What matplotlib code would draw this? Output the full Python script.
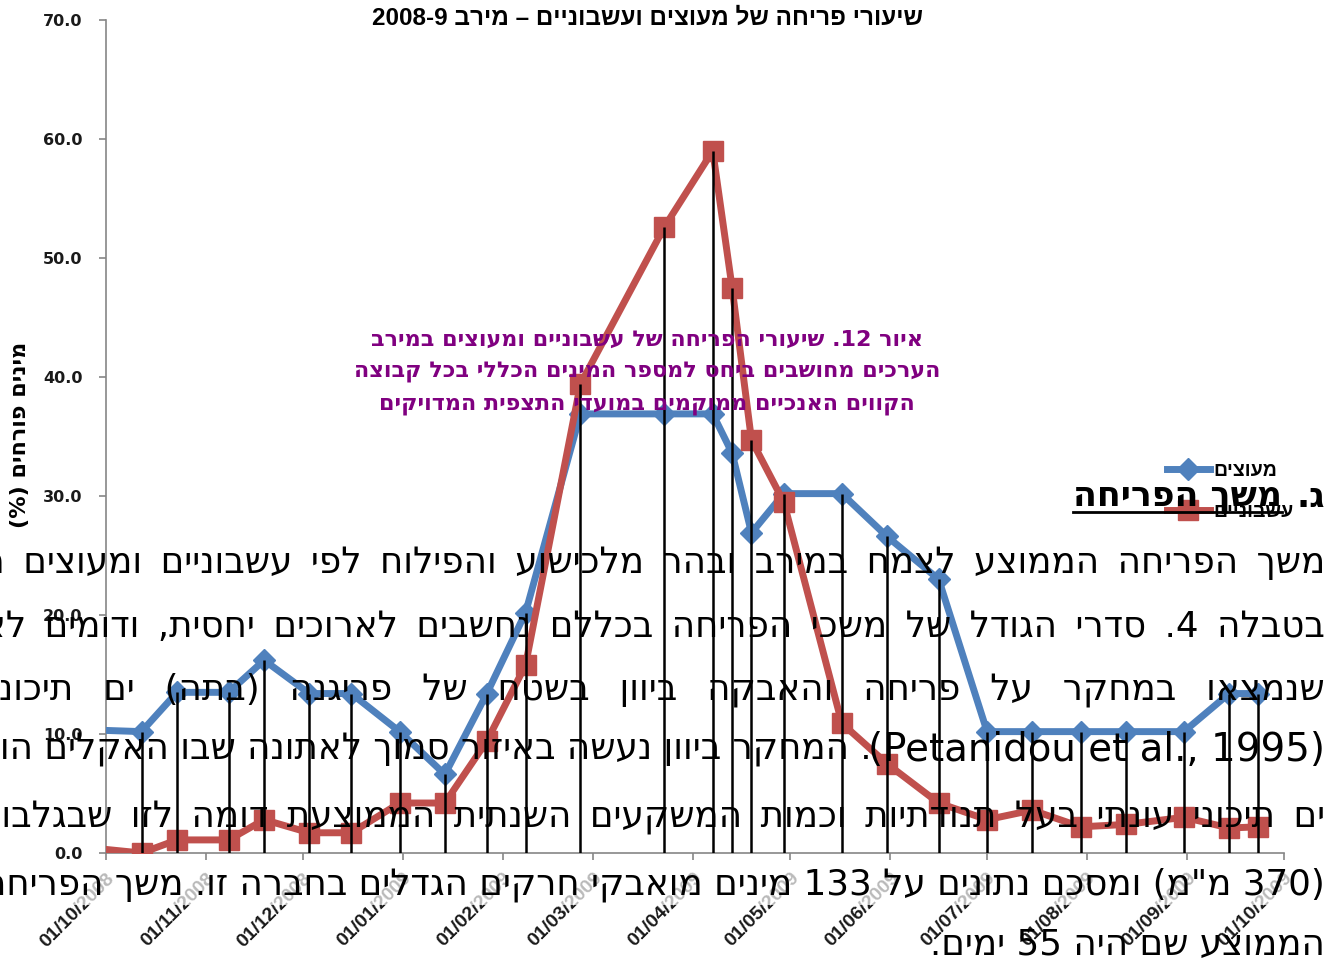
import re
import numpy as np
import pandas as pd
import matplotlib
matplotlib.use('Agg')
import matplotlib.pyplot as plt
from matplotlib.lines import Line2D
from matplotlib.ticker import FormatStrFormatter

# observation dates and % of species in bloom per group
dates = ['2008-10-01', '2008-10-12', '2008-10-23', '2008-11-08', '2008-11-19',
         '2008-12-03', '2008-12-16', '2008-12-31', '2009-01-14', '2009-01-27',
         '2009-02-08', '2009-02-25', '2009-03-23', '2009-04-07', '2009-04-13',
         '2009-04-19', '2009-04-29', '2009-05-17', '2009-05-31', '2009-06-16',
         '2009-07-01', '2009-07-15', '2009-07-30', '2009-08-13', '2009-08-31',
         '2009-09-14', '2009-09-23']
woody = [10.3, 10.2, 13.5, 13.5, 16.2, 13.4, 13.4, 10.2, 6.6, 13.4,
         20.2, 36.9, 36.9, 36.9, 33.6, 26.9, 30.2, 30.2, 26.6, 23.0,
         10.2, 10.2, 10.2, 10.2, 10.2, 13.4, 13.4]
herbs = [0.3, 0.0, 1.1, 1.1, 2.8, 1.7, 1.7, 4.2, 4.2, 9.4,
         15.8, 39.4, 52.6, 59.0, 47.5, 34.7, 29.5, 10.9, 7.5, 4.2,
         2.8, 3.6, 2.2, 2.4, 3.0, 2.1, 2.2]
series_names = ['מעוצים', 'עשבוניים']
yticks = [0, 10, 20, 30, 40, 50, 60, 70]
month_ticks = ['01/10/2008', '01/11/2008', '01/12/2008', '01/01/2009',
               '01/02/2009', '01/03/2009', '01/04/2009', '01/05/2009',
               '01/06/2009', '01/07/2009', '01/08/2009', '01/09/2009',
               '01/10/2009']

title = 'שיעורי פריחה של מעוצים ועשבוניים – מירב 2008-9'
ylabel = 'מינים פורחים (%)'
caption = ['איור 12. שיעורי הפריחה של עשבוניים ומעוצים במירב',
           'הערכים מחושבים ביחס למספר המינים הכללי בכל קבוצה',
           'הקווים האנכיים ממוקמים במועדי התצפית המדויקים']
heading_num = 'ג.'
heading = 'משך הפריחה'
body = ['משך הפריחה הממוצע לצמח במירב ובהר מלכישוע והפילוח לפי עשבוניים ומעוצים מוצג',
        'בטבלה 4. סדרי הגודל של משכי הפריחה בכללם נחשבים לארוכים יחסית, ודומים לאלו',
        'שנמצאו במחקר על פריחה והאבקה ביוון בשטח של פריגנה (בתה) ים תיכוני',
        '. המחקר ביוון נעשה באיזור סמוך לאתונה שבו האקלים הוא',
        'ים תיכוני עונתי בעל תנודתיות וכמות המשקעים השנתית הממוצעת דומה לזו שבגלבוע',
        '(370 מ"מ) ומסכם נתונים על 133 מינים מואבקי חרקים הגדלים בחברה זו. משך הפריחה',
        'הממוצע שם היה 55 ימים.']
citation = '(Petanidou et al., 1995)'

# matplotlib has no bidi support, so reorder right-to-left strings by hand
LTR = re.compile(r"[A-Za-z0-9](?:[A-Za-z0-9 .,\-]*[A-Za-z0-9])?")
MIRROR = str.maketrans('()', ')(')


def vis(s):
    parts = []
    pos = 0
    for m in LTR.finditer(s):
        parts.append(('r', s[pos:m.start()]))
        parts.append(('l', m.group()))
        pos = m.end()
    parts.append(('r', s[pos:]))
    out = ''
    for kind, t in reversed(parts):
        out += t if kind == 'l' else t[::-1].translate(MIRROR)
    return out


W, H = 1341, 964


def px(x, y):
    return x / W, 1 - y / H


narrow = ['Liberation Sans Narrow', 'Liberation Sans', 'DejaVu Sans']
arial = ['Liberation Sans', 'DejaVu Sans']

d = pd.to_datetime(dates)
tick_dates = pd.to_datetime(month_ticks, format='%d/%m/%Y')
blue = '#4F81BD'
red = '#C0504D'
grey = '#868686'
ink = '#1a1a1a'

fig = plt.figure(figsize=(W / 100, H / 100), dpi=100)
x0, y0 = px(106, 853)
x1, y1 = px(1284, 20)
ax = fig.add_axes([x0, y0, x1 - x0, y1 - y0])

# first point sits on the y axis, so no marker there
marks = list(range(1, len(dates)))
l1, = ax.plot(d, woody, color=blue, lw=5, marker='D', markersize=11,
              markevery=marks, solid_joinstyle='miter', zorder=3)
l2, = ax.plot(d, herbs, color=red, lw=5, marker='s', markersize=15,
              markevery=marks, solid_joinstyle='miter', zorder=4)
# black drop lines at each observation date
ax.vlines(d[1:], 0, np.maximum(woody, herbs)[1:], color='black', lw=1.8, zorder=6)

ax.set_xlim(tick_dates[0], tick_dates[-1])
ax.set_ylim(0, 70)
ax.set_yticks(yticks)
ax.yaxis.set_major_formatter(FormatStrFormatter('%.1f'))
ax.set_xticks(tick_dates)
ax.set_xticklabels(month_ticks, rotation=45, ha='right', va='top',
                   rotation_mode='anchor', family=arial, fontweight='bold',
                   fontsize=14)
for lab in ax.get_yticklabels():
    lab.set_family('DejaVu Sans')
    lab.set_fontweight('bold')
    lab.set_fontsize(11.5)

for s in ['top', 'right']:
    ax.spines[s].set_visible(False)
for s in ['left', 'bottom']:
    ax.spines[s].set_color(grey)
    ax.spines[s].set_linewidth(1.2)
ax.tick_params(color=grey, labelcolor=ink, length=5, width=1.2, direction='out')
ax.tick_params(axis='y', pad=12)
ax.tick_params(axis='x', pad=7)

fig.text(*px(647, 18), vis(title), ha='center', va='center',
         family=narrow, fontweight='bold', fontsize=17.5)
fig.text(*px(20, 435), vis(ylabel), ha='center', va='center', rotation=90,
         family='DejaVu Sans', fontweight='bold', fontsize=16)

fig.legend([l1, l2], [vis(n) for n in series_names],
           loc='upper left', bbox_to_anchor=px(1167, 462), frameon=False,
           handlelength=2.2, handletextpad=0.2, labelspacing=1.2,
           borderpad=0, borderaxespad=0,
           prop={'family': narrow, 'weight': 'bold', 'size': 14})

for i, line in enumerate(caption):
    fig.text(*px(647, 340 + i * 32.5), vis(line), ha='center', va='center',
             family='DejaVu Sans', fontweight='bold', fontsize=16,
             color='#800080', zorder=8)

# section heading: number, then underlined title to its left
num = fig.text(*px(1325, 497), vis(heading_num), ha='right', va='center',
               family='DejaVu Sans', fontweight='bold', fontsize=25, zorder=8)
renderer = fig.canvas.get_renderer()
nb = num.get_window_extent(renderer)
head = fig.text(nb.x0 - 14, nb.y0 + nb.height / 2, vis(heading), ha='right',
                va='center', transform=None, family='DejaVu Sans',
                fontweight='bold', fontsize=25, zorder=8)
hb = head.get_window_extent(renderer)
fig.add_artist(Line2D([hb.x0, hb.x1], [nb.y0 + 2, nb.y0 + 2], transform=None,
                      color='black', lw=2, zorder=8))

# justified paragraph: wider word gaps, line 3 stretched most
body_y = [563, 627, 690, 750, 818, 885, 945]
body_x = [1325, 1325, 1325, 872, 1325, 1325, 1325]
gaps = [' \u2009', ' \u2009', '  \u2009', ' ', ' \u2009', ' ', ' ']
for i, (line, xx, yy, gap) in enumerate(zip(body, body_x, body_y, gaps)):
    box = None
    if i == 5:
        # this line sits over the date labels and washes them out
        box = dict(facecolor='white', alpha=0.7, edgecolor='none', pad=2)
    fig.text(*px(xx, yy), vis(line).replace(' ', gap), ha='right', va='center',
             family='DejaVu Sans', fontsize=25.7, zorder=8, bbox=box)
fig.text(*px(1325, body_y[3]), vis(citation), ha='right', va='center',
         family='DejaVu Sans', fontsize=27.9, zorder=8)

fig.savefig('out.png', dpi=100)
